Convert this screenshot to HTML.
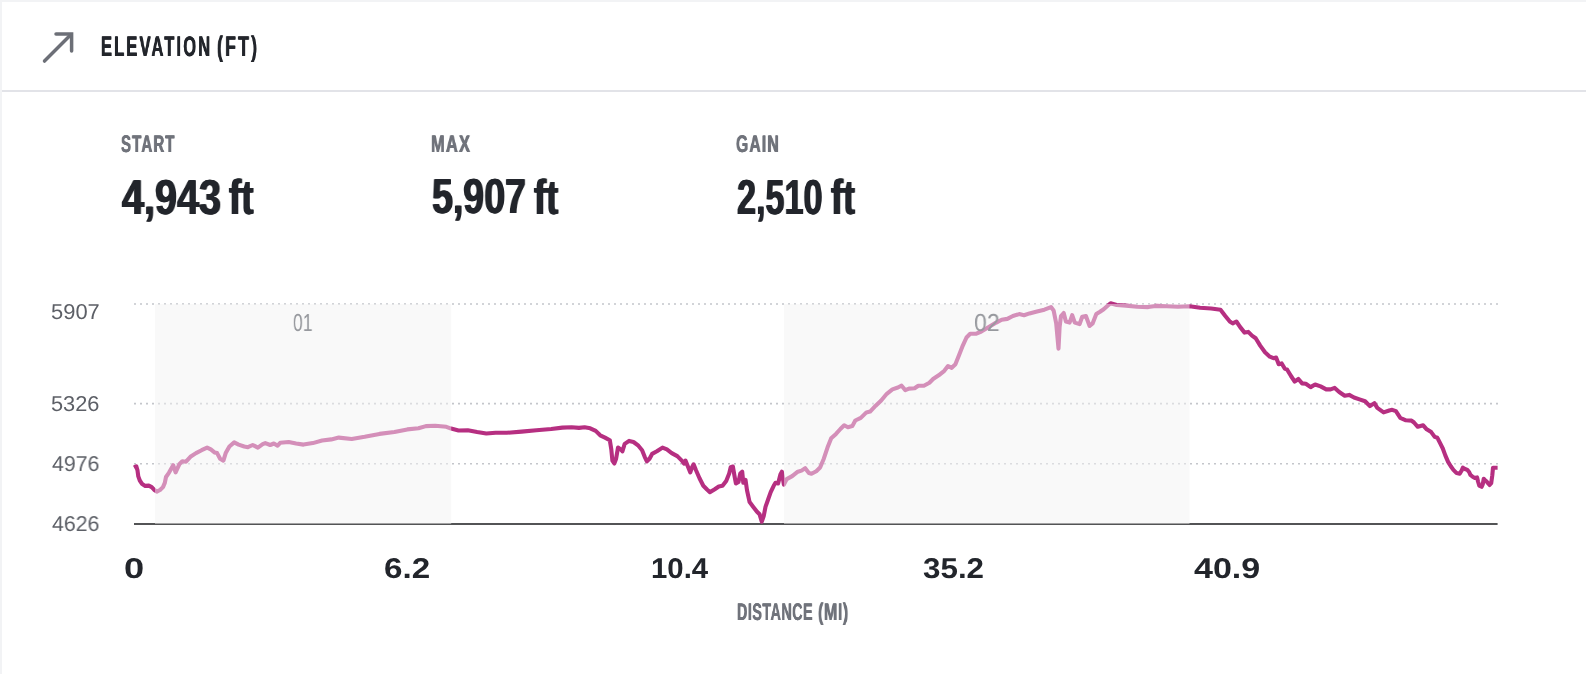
<!DOCTYPE html>
<html>
<head>
<meta charset="utf-8">
<title>Elevation</title>
<style>
  html, body { margin:0; padding:0; }
  body { width:1586px; height:674px; background:#fff; position:relative; overflow:hidden;
         font-family:"Liberation Sans", sans-serif; }
  .bt { position:absolute; left:0; top:0; width:1586px; height:2px; background:#f2f3f5; }
  .bl { position:absolute; left:0; top:0; width:2px; height:674px; background:#f2f3f5; }
  .sep { position:absolute; left:2px; top:90px; width:1584px; height:2px; background:#e2e3e8; }
  .t { position:absolute; white-space:nowrap; transform-origin:0 0; line-height:1; font-weight:bold; text-rendering:geometricPrecision; will-change:transform; }
  svg { position:absolute; left:0; top:0; }
</style>
</head>
<body>
<div class="bt"></div><div class="bl"></div><div class="sep"></div>

<svg width="1586" height="674" viewBox="0 0 1586 674">
  <!-- arrow icon -->
  <g fill="none" stroke="#6c6f77" stroke-width="3.5" stroke-linecap="round" stroke-linejoin="miter">
    <path d="M44.5 61.1 L71.0 34.6"/>
    <path d="M56.0 33.9 L71.6 33.9 L71.6 51.1"/>
  </g>
  <!-- grid -->
  <g stroke="#c4c6cb" stroke-width="1.6" stroke-dasharray="2 4">
    <line x1="134" y1="304" x2="1498" y2="304"/>
    <line x1="134" y1="403.6" x2="1498" y2="403.6"/>
    <line x1="134" y1="463.8" x2="1498" y2="463.8"/>
  </g>
  <line x1="134" y1="523.9" x2="1497.6" y2="523.9" stroke="#535456" stroke-width="2"/>
  <!-- elevation line -->
  <polyline fill="none" stroke="#b62f81" stroke-width="4.1" stroke-linejoin="round" stroke-linecap="butt"
    points="134.0,467.6 136.3,466.3 137.5,470.4 138.3,476.4 139.8,480.5 142.2,484.1 145.2,485.9 148.8,485.6 151.7,487.1 154.1,489.7 156.8,491.6 160.0,490.0 163.0,487.1 164.8,482.9 166.0,477.0 168.9,472.8 171.9,467.5 173.2,465.2 175.6,472.4 179.3,464.3 182.3,461.3 186.0,461.7 190.4,456.8 196.0,453.1 201.6,450.2 207.1,447.6 210.8,449.4 214.5,452.4 217.1,453.1 220.1,458.7 223.4,460.6 225.7,453.1 229.4,446.5 234.2,442.4 238.6,444.6 244.2,446.5 247.9,447.2 252.7,445.0 257.9,447.6 262.7,444.2 265.3,443.1 270.2,445.0 273.9,443.5 277.6,445.7 280.2,442.8 288.7,442.0 296.1,443.5 303.5,444.6 312.8,443.1 322.1,440.5 331.3,439.4 338.8,437.6 351.7,439.0 364.7,436.8 379.5,433.9 394.4,432.0 407.3,429.4 418.5,428.3 425.9,426.1 435.2,425.7 446.3,426.8 451.1,428.6 458.5,430.5 467.8,430.2 477.1,432.0 486.3,433.5 495.6,432.8 506.7,432.8 521.6,431.6 536.4,430.2 551.2,429.0 562.4,427.6 571.6,427.2 579.0,427.9 584.6,427.2 590.2,428.3 595.7,430.9 600.2,435.3 605.0,437.6 609.8,440.2 611.3,449.4 612.4,460.6 614.3,463.5 616.1,458.7 618.0,447.6 620.9,449.4 622.4,451.3 624.7,443.9 629.1,440.9 633.5,442.0 638.4,445.7 642.1,450.2 644.7,456.8 646.9,461.3 649.5,458.7 652.1,453.9 656.9,451.3 662.5,447.6 666.9,449.4 671.7,453.1 677.3,456.1 681.8,460.6 684.0,463.5 685.5,460.6 687.7,466.1 690.3,472.4 692.1,467.2 693.6,464.3 695.8,469.8 699.5,478.3 703.3,485.8 707.0,489.5 709.9,492.1 714.4,489.5 718.8,486.5 722.5,485.8 726.2,480.9 729.2,473.5 730.7,467.2 732.9,466.5 734.4,475.4 735.9,483.5 738.5,482.0 740.3,473.5 742.2,471.7 743.3,482.8 745.5,479.8 747.0,490.2 749.6,502.1 753.3,506.9 757.0,511.7 759.6,514.3 761.8,521.7 763.7,516.2 765.5,506.9 768.1,499.5 770.7,492.1 773.7,485.8 775.5,482.8 778.1,483.5 780.4,474.5 781.9,471.7 783.0,479.1 783.9,484.7 786.7,479.1 792.2,476.1 797.8,471.7 801.5,470.6 805.2,468.2 808.9,473.0 811.5,473.8 816.3,471.2 820.1,467.5 823.8,458.7 827.5,447.6 831.2,438.3 836.0,433.9 840.4,429.0 844.2,425.3 847.9,427.2 852.3,426.1 855.3,420.5 860.8,417.9 866.4,412.4 870.1,411.6 875.7,405.7 881.2,400.5 886.8,393.8 892.4,389.4 897.9,387.5 901.6,385.7 905.3,390.1 909.0,388.6 914.6,388.3 918.3,385.7 923.9,385.7 929.4,382.7 933.1,379.0 938.7,375.3 944.3,370.8 948.0,366.0 951.7,367.9 955.4,364.2 959.1,354.9 962.8,345.6 966.5,337.5 970.2,333.8 975.8,333.8 981.3,331.5 988.8,327.1 996.2,322.6 1001.7,319.7 1007.3,318.9 1012.9,316.0 1019.2,314.1 1024.0,315.2 1029.5,313.4 1037.0,311.5 1044.4,309.7 1051.0,307.1 1053.6,310.4 1056.2,323.4 1058.5,348.6 1059.6,327.1 1061.0,316.0 1063.7,313.0 1065.9,321.5 1069.6,322.6 1072.2,315.2 1074.8,322.6 1079.6,324.1 1082.2,316.7 1085.9,316.0 1089.6,326.0 1092.6,323.4 1096.3,314.1 1100.0,311.8 1103.7,309.3 1107.6,305.8 1110.6,303.3 1116.7,305.0 1126.0,305.6 1137.1,306.7 1148.2,307.1 1155.6,305.9 1166.7,306.3 1177.9,306.7 1189.7,306.3 1200.1,307.8 1211.2,308.5 1220.5,309.7 1225.3,316.0 1229.8,321.5 1232.7,323.4 1236.4,321.5 1240.2,327.1 1244.6,332.6 1248.3,331.9 1252.0,335.6 1255.7,338.2 1260.2,345.6 1265.0,352.3 1269.8,356.7 1273.5,358.2 1276.1,357.5 1278.7,364.2 1281.7,363.4 1284.7,368.6 1287.2,369.7 1291.0,376.0 1294.7,381.6 1298.4,379.0 1302.1,383.4 1305.8,383.8 1310.6,387.1 1315.1,384.5 1320.6,386.4 1326.2,389.4 1330.6,389.4 1334.7,387.9 1339.2,392.0 1344.7,395.7 1349.2,394.9 1354.0,397.5 1359.5,399.4 1365.1,401.2 1369.9,406.1 1374.4,403.1 1377.3,407.9 1383.6,412.4 1389.2,410.5 1392.2,409.8 1395.9,411.2 1400.3,417.9 1405.9,420.3 1411.5,420.6 1414.0,422.5 1417.8,426.8 1423.2,425.3 1426.7,429.3 1431.2,432.1 1434.7,436.9 1437.4,437.8 1440.1,443.2 1442.8,448.5 1445.4,455.6 1448.1,461.9 1450.8,466.3 1453.4,469.9 1456.6,473.1 1459.7,473.8 1461.5,470.8 1462.9,467.7 1465.0,469.0 1467.3,469.9 1469.1,472.0 1470.4,474.9 1473.0,477.0 1474.8,477.9 1477.1,477.4 1478.0,481.5 1479.3,485.6 1481.6,486.8 1482.8,484.1 1483.7,478.8 1485.5,480.6 1487.3,482.3 1489.6,485.0 1491.2,483.2 1492.3,475.2 1493.0,467.7 1495.3,467.7 1497.6,467.7"/>
  <!-- bands -->
  <rect x="155" y="304" width="296.2" height="220" fill="rgb(242,242,242)" fill-opacity="0.493"/>
  <rect x="784" y="304" width="405.5" height="220" fill="rgb(242,242,242)" fill-opacity="0.493"/>
</svg>

<div class="t" id="l1" style="left:121.03px;top:132.87px;font-size:23.86px;color:#70737b;transform:scaleX(0.6291);letter-spacing:1.8px;text-shadow:0.6px 0 0 #70737b,-0.6px 0 0 #70737b;">START</div>
<div class="t" id="l2" style="left:431.05px;top:132.87px;font-size:23.86px;color:#70737b;transform:scaleX(0.6889);letter-spacing:1.8px;text-shadow:0.6px 0 0 #70737b,-0.6px 0 0 #70737b;">MAX</div>
<div class="t" id="l3" style="left:736.32px;top:132.87px;font-size:23.86px;color:#70737b;transform:scaleX(0.6561);letter-spacing:1.8px;text-shadow:0.6px 0 0 #70737b,-0.6px 0 0 #70737b;">GAIN</div>
<div class="t" id="v1n" style="left:121.90px;top:173.66px;font-size:49.14px;color:#22252b;transform:scaleX(0.8054);text-shadow:0.9px 0 0 #22252b,-0.9px 0 0 #22252b;">4,943</div>
<div class="t" id="v1u" style="left:229.46px;top:173.66px;font-size:49.14px;color:#22252b;transform:scaleX(0.7478);text-shadow:0.9px 0 0 #22252b,-0.9px 0 0 #22252b;">ft</div>
<div class="t" id="v2n" style="left:431.60px;top:173.26px;font-size:49.14px;color:#22252b;transform:scaleX(0.7642);text-shadow:0.9px 0 0 #22252b,-0.9px 0 0 #22252b;">5,907</div>
<div class="t" id="v2u" style="left:534.42px;top:173.66px;font-size:49.14px;color:#22252b;transform:scaleX(0.7415);text-shadow:0.9px 0 0 #22252b,-0.9px 0 0 #22252b;">ft</div>
<div class="t" id="v3n" style="left:736.53px;top:173.66px;font-size:49.14px;color:#22252b;transform:scaleX(0.6952);text-shadow:0.9px 0 0 #22252b,-0.9px 0 0 #22252b;">2,510</div>
<div class="t" id="v3u" style="left:831.02px;top:173.66px;font-size:49.14px;color:#22252b;transform:scaleX(0.7351);text-shadow:0.9px 0 0 #22252b,-0.9px 0 0 #22252b;">ft</div>
<div class="t" id="x0" style="left:124.20px;top:555.31px;font-size:28.57px;color:#22252b;transform:scaleX(1.2673);">0</div>
<div class="t" id="x1" style="left:384.25px;top:555.31px;font-size:28.57px;color:#22252b;transform:scaleX(1.1623);">6.2</div>
<div class="t" id="x2" style="left:650.99px;top:555.31px;font-size:28.57px;color:#22252b;transform:scaleX(1.0275);">10.4</div>
<div class="t" id="x3" style="left:923.45px;top:555.31px;font-size:28.57px;color:#22252b;transform:scaleX(1.0980);">35.2</div>
<div class="t" id="x4" style="left:1194.42px;top:555.31px;font-size:28.57px;color:#22252b;transform:scaleX(1.1914);">40.9</div>
<div class="t" id="y1" style="left:51.49px;top:301.11px;font-size:21.57px;color:#5c5f66;transform:scaleX(1.0179);font-weight:normal;">5907</div>
<div class="t" id="y2" style="left:51.24px;top:392.81px;font-size:21.57px;color:#5c5f66;transform:scaleX(1.0109);font-weight:normal;">5326</div>
<div class="t" id="y3" style="left:51.80px;top:453.01px;font-size:21.57px;color:#5c5f66;transform:scaleX(0.9869);font-weight:normal;">4976</div>
<div class="t" id="y4" style="left:51.80px;top:513.01px;font-size:21.57px;color:#5c5f66;transform:scaleX(0.9869);font-weight:normal;">4626</div>
<div class="t" id="b1" style="left:293.23px;top:311.87px;font-size:24.57px;color:#97999e;transform:scaleX(0.7140);font-weight:normal;">01</div>
<div class="t" id="b2" style="left:974.32px;top:311.87px;font-size:24.57px;color:#97999e;transform:scaleX(0.9372);font-weight:normal;">02</div>
<div class="t" id="d1" style="left:736.97px;top:600.86px;font-size:24.00px;color:#70737b;transform:scaleX(0.5977);letter-spacing:0.8px;text-shadow:0.45px 0 0 #70737b,-0.45px 0 0 #70737b;">DISTANCE</div>
<div class="t" id="d2" style="left:818.27px;top:600.86px;font-size:24.00px;color:#70737b;transform:scaleX(0.6704);letter-spacing:0.8px;text-shadow:0.45px 0 0 #70737b,-0.45px 0 0 #70737b;">(MI)</div>
<div class="t" id="t1" style="left:101.11px;top:33.03px;font-size:28.43px;color:#22252b;transform:scaleX(0.5828);letter-spacing:3.6px;text-shadow:0.55px 0 0 #22252b,-0.55px 0 0 #22252b;">ELEVATION</div>
<div class="t" id="t2" style="left:217.24px;top:33.03px;font-size:28.43px;color:#22252b;transform:scaleX(0.6214);letter-spacing:3.6px;text-shadow:0.55px 0 0 #22252b,-0.55px 0 0 #22252b;">(FT)</div>
</body>
</html>
